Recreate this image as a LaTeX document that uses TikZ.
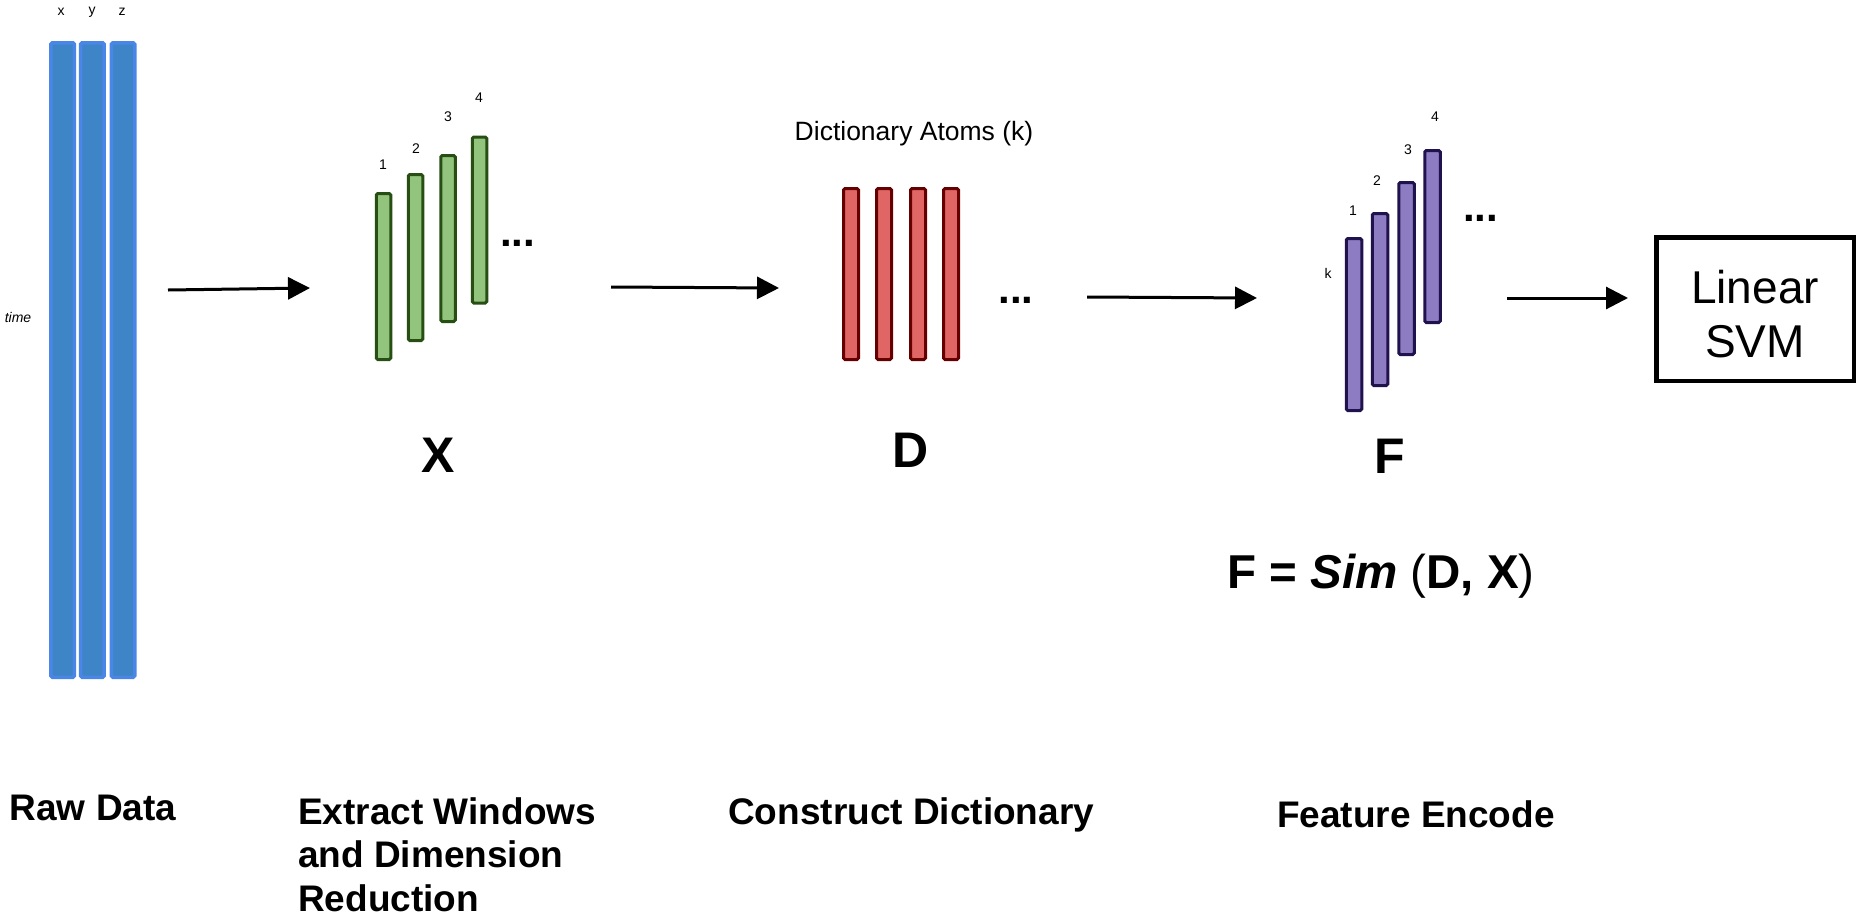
\documentclass[tikz,border=0pt]{standalone}
\usepackage{fontspec}
\setmainfont{Liberation Sans}
\usetikzlibrary{arrows.meta}
\definecolor{bluefill}{HTML}{3D85C6}
\definecolor{blueline}{HTML}{4A86E8}
\definecolor{greenfill}{HTML}{93C47D}
\definecolor{greenline}{HTML}{274E13}
\definecolor{redfill}{HTML}{E06666}
\definecolor{redline}{HTML}{660000}
\definecolor{purplefill}{HTML}{8E7CC3}
\definecolor{purpleline}{HTML}{20124D}
\begin{document}
\begin{tikzpicture}[x=1pt,y=-1pt,
  bar/.style={rectangle, inner sep=0pt, outer sep=0pt, rounded corners=1.5pt, line width=3pt},
  bluebar/.style={bar, draw=blueline, fill=bluefill, line width=3.5pt, minimum width=23.5pt, minimum height=634.5pt},
  greenbar/.style={bar, draw=greenline, fill=greenfill, minimum width=14.5pt, minimum height=166pt},
  redbar/.style={bar, draw=redline, fill=redfill, minimum width=15pt, minimum height=171pt},
  purplebar/.style={bar, draw=purpleline, fill=purplefill, minimum width=15.5pt, minimum height=172pt},
  small/.style={font=\fontsize{14}{16}\selectfont, inner sep=0pt},
  bigletter/.style={font=\fontsize{50}{60}\selectfont\bfseries, inner sep=0pt},
  stagelabel/.style={font=\fontsize{37}{43.5}\selectfont\bfseries, anchor=base west, inner sep=0pt, align=left},
  dotsl/.style={font=\fontsize{42}{50}\selectfont\bfseries, inner sep=0pt},
  flow/.style={line width=3pt, -{Triangle[length=22pt,width=22pt]}}
]
\useasboundingbox (0,0) rectangle (1857,918);

% raw data
\node[bluebar] (bx) at (62.7,360) {};
\node[bluebar] (by) at (92.3,360) {};
\node[bluebar] (bz) at (123,360) {};
\node[small] (lx) at (61,12) {x};
\node[small] (ly) at (92,12) {y};
\node[small] (lz) at (122,12) {z};
\node[small, font=\fontsize{14}{16}\selectfont\itshape] (time) at (18,317) {time};

% windows X
\node[greenbar] (g1) at (383.5,276.5) {};
\node[greenbar] (g2) at (415.5,257.5) {};
\node[greenbar] (g3) at (448,238.5) {};
\node[greenbar] (g4) at (479.5,220) {};
\node[small] (gl1) at (383,165) {1};
\node[small] (gl2) at (416,149) {2};
\node[small] (gl3) at (448,117) {3};
\node[small] (gl4) at (479,98) {4};
\node[dotsl] (gdots) at (517.5,243) {...};
\node[bigletter] (X) at (438,455) {X};

% dictionary D
\node[font=\fontsize{26.5}{30}\selectfont, inner sep=0pt] (atoms) at (914,134) {Dictionary Atoms (k)};
\node[redbar] (r1) at (851,274) {};
\node[redbar] (r2) at (884,274) {};
\node[redbar] (r3) at (918,274) {};
\node[redbar] (r4) at (951,274) {};
\node[dotsl] (rdots) at (1016,300) {...};
\node[bigletter] (D) at (911,450) {D};

% features F
\node[purplebar] (p1) at (1354,324.5) {};
\node[purplebar] (p2) at (1380,299.5) {};
\node[purplebar] (p3) at (1406.5,268.5) {};
\node[purplebar] (p4) at (1432.5,236.5) {};
\node[small] (pk) at (1328,273) {k};
\node[small] (pl1) at (1353,211) {1};
\node[small] (pl2) at (1377,181) {2};
\node[small] (pl3) at (1408,150) {3};
\node[small] (pl4) at (1435,117) {4};
\node[dotsl] (pdots) at (1480.5,218) {...};
\node[bigletter] (F) at (1390,456) {F};
\node[font=\fontsize{47.5}{57}\selectfont, inner sep=0pt] (eq) at (1381,576) {\textbf{F = \textit{Sim}} (\textbf{D, X})};

% classifier
\node[draw, line width=4.5pt, minimum width=197.5pt, minimum height=143.5pt, inner sep=0pt, align=center, font=\fontsize{46}{54}\selectfont] (svm) at (1755,309) {\rule{0pt}{43pt}Linear\\SVM};

% arrows
\coordinate (a1s) at (168,290);
\coordinate (a1e) at (310,288);
\coordinate (a2s) at (611,287);
\coordinate (a2e) at (779,288);
\coordinate (a3s) at (1087,297);
\coordinate (a3e) at (1257,298);
\coordinate (a4s) at (1507,298);
\coordinate (a4e) at (1628,298);
\draw[flow] (a1s) -- (a1e);
\draw[flow] (a2s) -- (a2e);
\draw[flow] (a3s) -- (a3e);
\draw[flow] (a4s) -- (a4e);

% stage labels
\node[stagelabel] (s1) at (9.5,820) {Raw Data};
\node[stagelabel] (s2) at (298,911) {Extract Windows\\and Dimension\\Reduction};
\node[stagelabel] (s3) at (728,824) {Construct Dictionary};
\node[stagelabel] (s4) at (1277,827) {Feature Encode};
\end{tikzpicture}
\end{document}
